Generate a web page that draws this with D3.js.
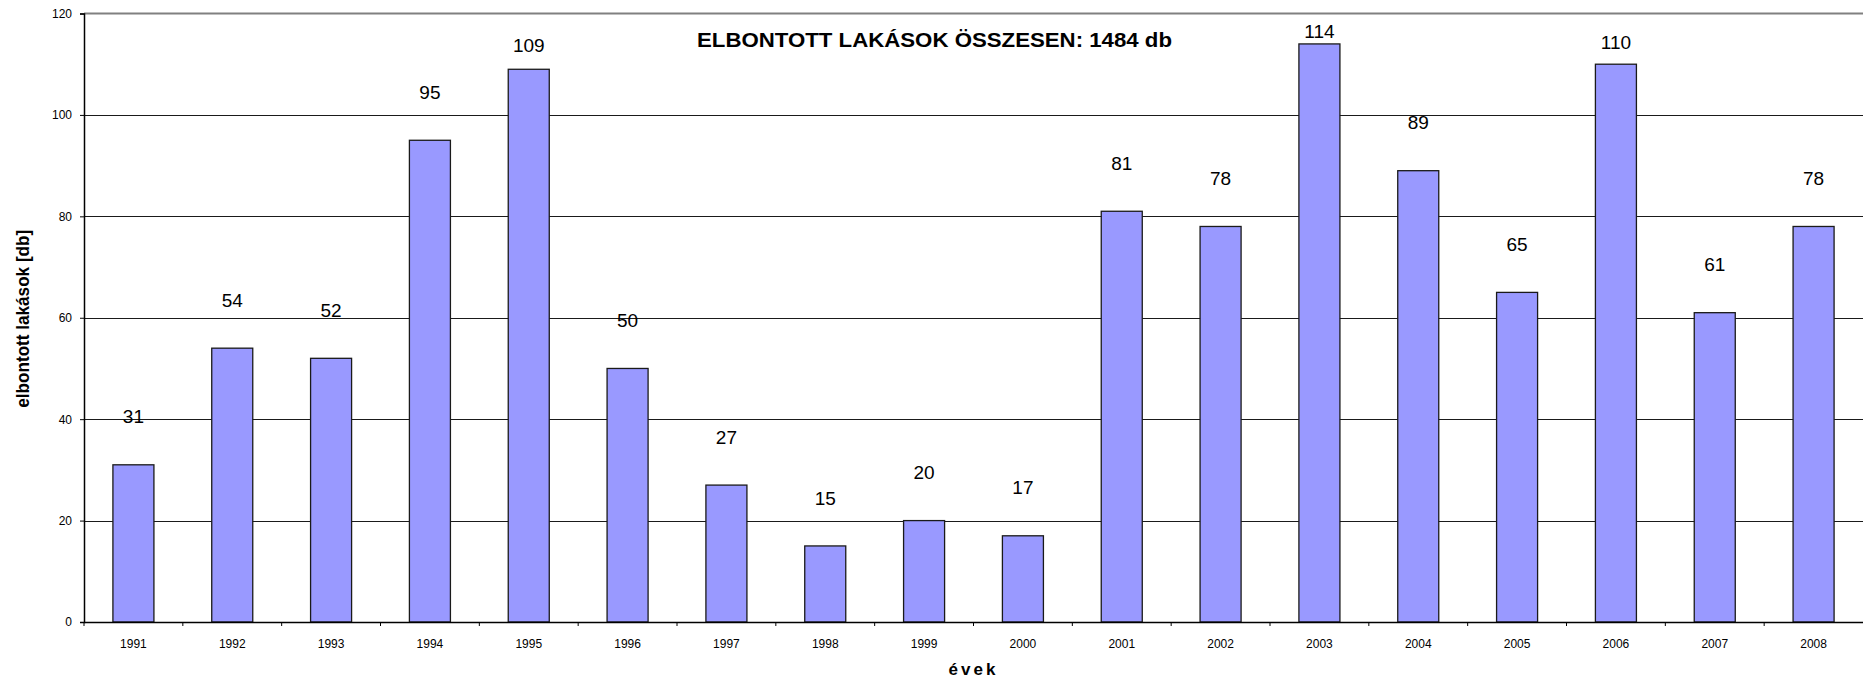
<!DOCTYPE html>
<html>
<head>
<meta charset="utf-8">
<script src="https://cdn.jsdelivr.net/npm/d3@7"></script>
<style>
  html, body { margin: 0; padding: 0; background: #fff; }
  svg { display: block; font-family: "Liberation Sans", Arial, sans-serif; }
</style>
</head>
<body>
<div id="chart"></div>
<script>
const width = 1863;
const height = 678;

// data
const years = ["1991", "1992", "1993", "1994", "1995", "1996", "1997", "1998", "1999",
  "2000", "2001", "2002", "2003", "2004", "2005", "2006", "2007", "2008"];
const demolished = [31, 54, 52, 95, 109, 50, 27, 15, 20, 17, 81, 78, 114, 89, 65, 110, 61, 78];
const yTicks = [0, 20, 40, 60, 80, 100, 120];

const title = "ELBONTOTT LAKÁSOK ÖSSZESEN: 1484 db";
const xTitle = "évek";
const yTitle = "elbontott lakások [db]";

const margin = { top: 13.5, right: 0, bottom: 56, left: 84 };

const svg = d3
  .select("#chart")
  .append("svg")
  .attr("width", width)
  .attr("height", height);

const x = d3
  .scaleBand()
  .domain(years)
  .range([margin.left, width - margin.right])
  .paddingInner(0.585)
  .paddingOuter(0.2925);

const y = d3
  .scaleLinear()
  .domain([0, 120])
  .range([height - margin.bottom, margin.top]);

// gridlines
svg
  .append("g")
  .attr("class", "grid")
  .selectAll("line")
  .data(yTicks.filter((d) => d > 0 && d < 120))
  .enter()
  .append("line")
  .attr("x1", margin.left)
  .attr("x2", width - margin.right)
  .attr("y1", (d) => Math.round(y(d)) + 0.5)
  .attr("y2", (d) => Math.round(y(d)) + 0.5)
  .attr("stroke", "#1a1a1a")
  .attr("stroke-width", 1.2);

// top border of plot area
svg
  .append("line")
  .attr("x1", margin.left)
  .attr("x2", width)
  .attr("y1", y(120))
  .attr("y2", y(120))
  .attr("stroke", "#808080")
  .attr("stroke-width", 2);

// bars
svg
  .append("g")
  .attr("class", "bars")
  .selectAll("rect")
  .data(demolished)
  .enter()
  .append("rect")
  .attr("x", (d, i) => x(years[i]))
  .attr("y", (d) => y(d))
  .attr("width", x.bandwidth())
  .attr("height", (d) => y(0) - y(d))
  .attr("fill", "#9999ff")
  .attr("stroke", "#1a1a1a")
  .attr("stroke-width", 1.3);

// y axis
const yAxis = svg
  .append("g")
  .attr("transform", `translate(${margin.left},0)`)
  .call(d3.axisLeft(y).tickValues(yTicks).tickSize(4).tickPadding(8));
yAxis.select(".domain").attr("stroke", "#000").attr("stroke-width", 1.5);
yAxis.selectAll(".tick line").attr("stroke", "#000");
yAxis
  .selectAll(".tick text")
  .attr("font-size", 12)
  .attr("font-family", "Liberation Sans, Arial, sans-serif")
  .attr("fill", "#000");

// x axis, ticks sit on the category boundaries
const xAxis = svg
  .append("g")
  .attr("transform", `translate(0,${y(0)})`)
  .call(d3.axisBottom(x).tickSize(0).tickPadding(17).tickSizeOuter(0));
xAxis.select(".domain").attr("stroke", "#000").attr("stroke-width", 1.5);
xAxis
  .selectAll(".tick text")
  .attr("font-size", 12)
  .attr("font-family", "Liberation Sans, Arial, sans-serif")
  .attr("fill", "#000");

svg
  .append("g")
  .selectAll("line")
  .data(years)
  .enter()
  .append("line")
  .attr("x1", (d) => x(d) - x.step() * x.paddingOuter())
  .attr("x2", (d) => x(d) - x.step() * x.paddingOuter())
  .attr("y1", y(0))
  .attr("y2", y(0) + 4)
  .attr("stroke", "#000")
  .attr("stroke-width", 1);

// value labels above the bars, squeezed near the top edge
svg
  .append("g")
  .attr("class", "labels")
  .selectAll("text")
  .data(demolished)
  .enter()
  .append("text")
  .attr("x", (d, i) => x(years[i]) + x.bandwidth() / 2)
  .attr("y", (d) => y(d + Math.min(9.5, (120 - d) * 0.43)))
  .attr("dy", "0.36em")
  .attr("text-anchor", "middle")
  .attr("font-size", 19)
  .attr("fill", "#000")
  .text((d) => d);

// chart title
svg
  .append("text")
  .attr("x", 697)
  .attr("y", 46.5)
  .attr("font-size", 19.5)
  .attr("font-weight", "bold")
  .attr("textLength", 475)
  .attr("lengthAdjust", "spacingAndGlyphs")
  .attr("fill", "#000")
  .text(title);

// x title
svg
  .append("text")
  .attr("x", (margin.left + width) / 2)
  .attr("y", 675)
  .attr("text-anchor", "middle")
  .attr("font-size", 17)
  .attr("font-weight", "bold")
  .attr("letter-spacing", 3)
  .attr("fill", "#000")
  .text(xTitle);

// y title
svg
  .append("text")
  .attr("transform", `translate(29,${(margin.top + y(0)) / 2 + 1}) rotate(-90)`)
  .attr("text-anchor", "middle")
  .attr("font-size", 18)
  .attr("font-weight", "bold")
  .attr("textLength", 178)
  .attr("lengthAdjust", "spacingAndGlyphs")
  .attr("fill", "#000")
  .text(yTitle);
</script>
</body>
</html>
